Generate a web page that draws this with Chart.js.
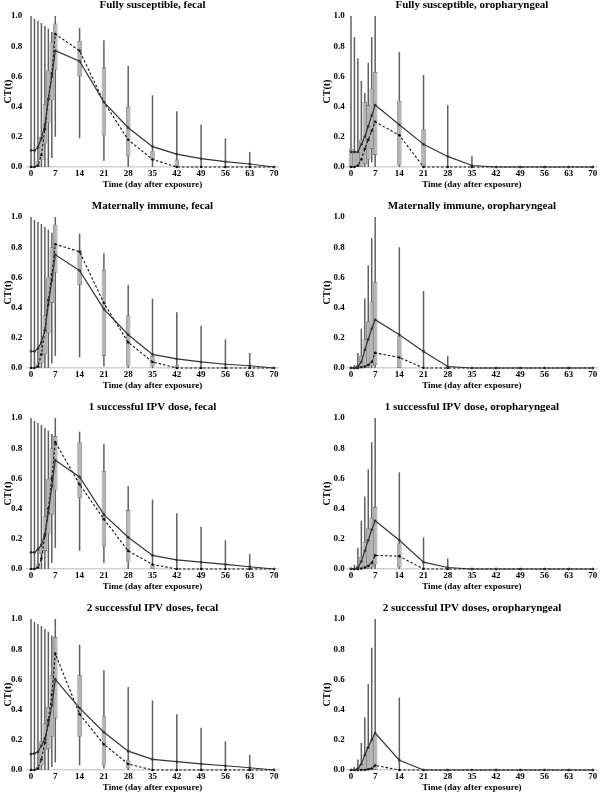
<!DOCTYPE html>
<html><head><meta charset="utf-8">
<script src="https://cdn.jsdelivr.net/npm/chart.js@4/dist/chart.umd.min.js"></script>
<style>
html,body{margin:0;padding:0;background:#fff;width:601px;height:795px;overflow:hidden;position:relative}
canvas{position:absolute}
</style></head><body>
<script>
const days = [0,1,2,3,4,5,6,7,14,21,28,35,42,49,56,63,70];
const xTicks = [0,7,14,21,28,35,42,49,56,63,70];
const yTicks = [0,0.2,0.4,0.6,0.8,1.0];
const xTitle = 'Time (day after exposure)';
const yTitle = 'CT(t)';

// Fully susceptible, fecal
const fsFecalWhiskerHi = [1.0,0.98,0.967,0.954,0.934,0.916,0.894,1.0,0.92,0.84,0.67,0.475,0.37,0.28,0.19,0.1,0];
const fsFecalWhiskerLo = [0,0,0,0,0,0,0.06,0.2,0.19,0.04,0,0,0,0,0,0,0];
const fsFecalBoxHi = [null,null,0.04,0.2,0.415,0.64,0.83,0.95,0.835,0.66,0.4,0.11,0.05,null,null,null,null];
const fsFecalBoxLo = [null,null,0,0.045,0.155,0.29,0.44,0.64,0.6,0.21,0.07,0.045,0,null,null,null,null];
const fsFecalSolid = [0.11,0.11,0.13,0.19,0.28,0.45,0.6,0.77,0.70,0.43,0.26,0.135,0.085,0.055,0.035,0.02,0];
const fsFecalDashed = [0,0,0.01,0.08,0.25,0.45,0.62,0.88,0.77,0.43,0.18,0.05,0,0,0,0,0];

// Fully susceptible, oropharyngeal
const fsOroWhiskerHi = [1.0,0.86,0.72,0.57,0.49,0.69,0.86,1.0,0.76,0.61,0.41,0.075,0,0,0,0,0];
const fsOroWhiskerLo = [0,0,0,0,0,0,0.03,0,0,0,0,0,0,0,0,0,0];
const fsOroBoxHi = [0.12,0.1,0.1,0.18,0.43,0.41,0.52,0.63,0.44,0.25,null,null,null,null,null,null,null];
const fsOroBoxLo = [0,0,0,0,0.02,0.05,0.12,0.08,0.01,0,null,null,null,null,null,null,null];
const fsOroSolid = [0.1,0.1,0.1,0.15,0.2,0.27,0.34,0.41,0.28,0.15,0.07,0.01,0,0,0,0,0];
const fsOroDashed = [0,0,0.01,0.05,0.12,0.18,0.24,0.3,0.21,0,0,0,0,0,0,0,0];

// Maternally immune, fecal
const miFecalWhiskerHi = [1.0,0.98,0.967,0.954,0.934,0.916,0.896,1.0,0.89,0.76,0.55,0.46,0.37,0.28,0.19,0.1,0];
const miFecalWhiskerLo = [0,0,0,0,0,0,0.03,0.08,0.07,0.01,0,0,0,0,0,0,0];
const miFecalBoxHi = [null,null,0.03,0.14,0.35,0.6,0.8,0.95,0.78,0.65,0.35,0.08,0.02,null,null,null,null];
const miFecalBoxLo = [null,null,0,0.03,0.09,0.23,0.43,0.63,0.55,0.08,0.01,0.01,0,null,null,null,null];
const miFecalSolid = [0.11,0.11,0.13,0.17,0.25,0.42,0.58,0.75,0.645,0.39,0.22,0.09,0.06,0.04,0.025,0.015,0];
const miFecalDashed = [0,0,0.01,0.09,0.25,0.45,0.62,0.82,0.77,0.43,0.17,0.04,0,0,0,0,0];

// Maternally immune, oropharyngeal
const miOroWhiskerHi = [0.01,0.02,0.1,0.26,0.46,0.68,0.86,1.0,0.8,0.51,0.08,0,0,0,0,0,0];
const miOroWhiskerLo = [0,0,0,0,0,0,0,0,0,0,0,0,0,0,0,0,0];
const miOroBoxHi = [null,null,0.02,0.08,0.19,0.31,0.44,0.57,0.21,null,null,null,null,null,null,null,null];
const miOroBoxLo = [null,null,0,0,0,0,0.01,0.02,0,null,null,null,null,null,null,null,null];
const miOroSolid = [0,0,0.01,0.04,0.12,0.19,0.26,0.32,0.22,0.11,0.01,0,0,0,0,0,0];
const miOroDashed = [0,0,0,0.005,0.01,0.02,0.04,0.1,0.07,0,0,0,0,0,0,0,0];

// 1 successful IPV dose, fecal
const ipv1FecalWhiskerHi = [1.0,0.98,0.967,0.954,0.934,0.916,0.894,1.0,0.91,0.83,0.55,0.46,0.37,0.28,0.19,0.1,0];
const ipv1FecalWhiskerLo = [0,0,0,0,0,0,0.04,0.14,0.12,0.04,0,0,0,0,0,0,0];
const ipv1FecalBoxHi = [null,null,0.03,0.15,0.35,0.6,0.8,0.88,0.84,0.65,0.39,0.03,null,null,null,null,null];
const ipv1FecalBoxLo = [null,null,0,0.1,0.12,0.23,0.36,0.52,0.47,0.15,0.05,0,null,null,null,null,null];
const ipv1FecalSolid = [0.11,0.11,0.13,0.16,0.23,0.37,0.55,0.72,0.61,0.36,0.21,0.09,0.06,0.045,0.03,0.015,0];
const ipv1FecalDashed = [0,0,0.01,0.07,0.22,0.4,0.6,0.84,0.56,0.33,0.12,0.03,0,0,0,0,0];

// 1 successful IPV dose, oropharyngeal
const ipv1OroWhiskerHi = [0.01,0.03,0.14,0.32,0.48,0.66,0.84,1.0,0.64,0.21,0.07,0,0,0,0,0,0];
const ipv1OroWhiskerLo = [0,0,0,0,0,0,0,0,0,0,0,0,0,0,0,0,0];
const ipv1OroBoxHi = [null,null,0.02,0.08,0.18,0.27,0.34,0.41,0.17,null,null,null,null,null,null,null,null];
const ipv1OroBoxLo = [null,null,0,0,0,0,0.01,0.03,0.01,null,null,null,null,null,null,null,null];
const ipv1OroSolid = [0,0,0.01,0.05,0.12,0.19,0.26,0.32,0.19,0.045,0.01,0,0,0,0,0,0];
const ipv1OroDashed = [0,0,0,0.003,0.01,0.02,0.04,0.09,0.085,0,0,0,0,0,0,0,0];

// 2 successful IPV doses, fecal
const ipv2FecalWhiskerHi = [1.0,0.98,0.967,0.954,0.934,0.916,0.89,1.0,0.83,0.66,0.55,0.46,0.37,0.28,0.19,0.1,0.01];
const ipv2FecalWhiskerLo = [0,0,0,0,0,0,0.02,0.05,0.03,0.01,0,0,0,0,0,0,0];
const ipv2FecalBoxHi = [null,null,0.02,0.19,0.31,0.42,0.63,0.88,0.63,0.36,0.07,null,null,null,null,null,null];
const ipv2FecalBoxLo = [null,null,0,0.03,0.13,0.14,0.22,0.34,0.22,0.03,0.01,null,null,null,null,null,null];
const ipv2FecalSolid = [0.105,0.11,0.12,0.16,0.21,0.3,0.43,0.6,0.41,0.25,0.125,0.07,0.055,0.04,0.028,0.015,0];
const ipv2FecalDashed = [0,0,0.01,0.07,0.18,0.33,0.5,0.77,0.37,0.17,0.04,0,0,0,0,0,0];

// 2 successful IPV doses, oropharyngeal
const ipv2OroWhiskerHi = [0.005,0.02,0.07,0.18,0.35,0.57,0.81,1.0,0.48,0,0,0,0,0,0,0,0];
const ipv2OroWhiskerLo = [0,0,0,0,0,0,0,0,0,0,0,0,0,0,0,0,0];
const ipv2OroBoxHi = [null,null,0.01,0.04,0.1,0.15,0.2,0.24,null,null,null,null,null,null,null,null,null];
const ipv2OroBoxLo = [null,null,0,0,0,0,0,0,null,null,null,null,null,null,null,null,null];
const ipv2OroSolid = [0,0,0.01,0.04,0.1,0.15,0.2,0.245,0.065,0,0,0,0,0,0,0,0];
const ipv2OroDashed = [0,0,0,0,0,0.005,0.01,0.03,0,0,0,0,0,0,0,0,0];

const panels = [
  {title:'Fully susceptible, fecal', col:0, row:0, wh:fsFecalWhiskerHi, wl:fsFecalWhiskerLo, bh:fsFecalBoxHi, bl:fsFecalBoxLo, s:fsFecalSolid, d:fsFecalDashed},
  {title:'Fully susceptible, oropharyngeal', col:1, row:0, wh:fsOroWhiskerHi, wl:fsOroWhiskerLo, bh:fsOroBoxHi, bl:fsOroBoxLo, s:fsOroSolid, d:fsOroDashed},
  {title:'Maternally immune, fecal', col:0, row:1, wh:miFecalWhiskerHi, wl:miFecalWhiskerLo, bh:miFecalBoxHi, bl:miFecalBoxLo, s:miFecalSolid, d:miFecalDashed},
  {title:'Maternally immune, oropharyngeal', col:1, row:1, wh:miOroWhiskerHi, wl:miOroWhiskerLo, bh:miOroBoxHi, bl:miOroBoxLo, s:miOroSolid, d:miOroDashed},
  {title:'1 successful IPV dose, fecal', col:0, row:2, wh:ipv1FecalWhiskerHi, wl:ipv1FecalWhiskerLo, bh:ipv1FecalBoxHi, bl:ipv1FecalBoxLo, s:ipv1FecalSolid, d:ipv1FecalDashed},
  {title:'1 successful IPV dose, oropharyngeal', col:1, row:2, wh:ipv1OroWhiskerHi, wl:ipv1OroWhiskerLo, bh:ipv1OroBoxHi, bl:ipv1OroBoxLo, s:ipv1OroSolid, d:ipv1OroDashed},
  {title:'2 successful IPV doses, fecal', col:0, row:3, wh:ipv2FecalWhiskerHi, wl:ipv2FecalWhiskerLo, bh:ipv2FecalBoxHi, bl:ipv2FecalBoxLo, s:ipv2FecalSolid, d:ipv2FecalDashed},
  {title:'2 successful IPV doses, oropharyngeal', col:1, row:3, wh:ipv2OroWhiskerHi, wl:ipv2OroWhiskerLo, bh:ipv2OroBoxHi, bl:ipv2OroBoxLo, s:ipv2OroSolid, d:ipv2OroDashed}
];

const SERIF = "'Liberation Serif','Times New Roman',serif";
Chart.defaults.font.family = SERIF;
Chart.defaults.color = '#000';

const colLeft = [0, 320];
const colWidth = [300, 281];
const rowTop = [0, 201, 402, 603];
const canvasH = 190;
const yAxisW = 26.83;
const xAxisH = 23;

panels.forEach((p, idx) => {
  const cv = document.createElement('canvas');
  cv.width = colWidth[p.col]; cv.height = canvasH;
  cv.style.left = colLeft[p.col] + 'px';
  cv.style.top = rowTop[p.row] + 'px';
  cv.style.width = colWidth[p.col] + 'px';
  cv.style.height = canvasH + 'px';
  document.body.appendChild(cv);

  const whiskers = days.map((dd, i) => ({x: dd, y: p.wh[i] > p.wl[i] ? [p.wl[i], p.wh[i]] : null}));
  const boxes = days.map((dd, i) => ({x: dd, y: (p.bh[i] !== null && p.bh[i] > p.bl[i]) ? [p.bl[i], p.bh[i]] : null}));
  const solid = days.map((dd, i) => ({x: dd, y: p.s[i]}));
  const dashed = days.map((dd, i) => ({x: dd, y: p.d[i]}));

  new Chart(cv, {
    type: 'bar',
    data: {
      datasets: [
        {type:'line', data: solid, borderColor:'#333', borderWidth:1.2, pointRadius:1.3, pointBackgroundColor:'#333', pointBorderWidth:0, tension:0, fill:false, clip:false, order:0},
        {type:'line', data: dashed, borderColor:'#111', borderWidth:1.1, borderDash:[2.5,2], pointRadius:1.3, pointBackgroundColor:'#111', pointBorderWidth:0, tension:0, fill:false, clip:false, order:1},
        {type:'bar', data: boxes, backgroundColor:'#b4b4b4', borderColor:'#7a7a7a', borderWidth:0.8, borderSkipped:false, barThickness:4.5, inflateAmount:0, grouped:false, clip:false, order:2},
        {type:'bar', data: whiskers, backgroundColor:'#606060', borderWidth:0, barThickness:1.5, inflateAmount:0, grouped:false, clip:false, order:3}
      ]
    },
    options: {
      responsive: false,
      animation: false,
      devicePixelRatio: 1,
      layout: {padding: {left:0, top:0, bottom:0, right: colWidth[p.col] - 278.17}},
      plugins: {
        legend: {display:false},
        tooltip: {enabled:false},
        title: {display:true, text:p.title, fullSize:false, color:'#000',
                font:{size:11, weight:'bold', family:SERIF, lineHeight:1.0},
                padding:{top:0, bottom:5}}
      },
      scales: {
        x: {
          type:'linear', min:-1.2, max:71.2, offset:false,
          grid:{display:false, drawTicks:false},
          border:{display:true, color:'#d2d2d2', width:1.5},
          afterBuildTicks: s => { s.ticks = xTicks.map(v => ({value:v})); },
          afterFit: s => { s.height = xAxisH; },
          ticks:{padding:1, autoSkip:false, maxRotation:0, font:{size:9, weight:'bold'}, color:'#000'},
          title:{display:true, text:xTitle, font:{size:9, weight:'bold'}, color:'#000', padding:{top:0,bottom:0}}
        },
        y: {
          type:'linear', min:0, max:1.0, offset:false,
          grid:{display:false, drawTicks:false},
          border:{display:false},
          afterBuildTicks: s => { s.ticks = yTicks.map(v => ({value:v})); },
          afterFit: s => { s.width = yAxisW; },
          ticks:{padding: p.col === 0 ? 4.5 : 2, font:{size:9, weight:'bold'}, color:'#000', callback: v => Number(v).toFixed(1)},
          title:{display:true, text:yTitle, font:{size:10, weight:'bold'}, color:'#000', padding:{top: p.col === 0 ? 2 : 1, bottom:0}}
        }
      }
    }
  });
});
</script>
</body></html>
